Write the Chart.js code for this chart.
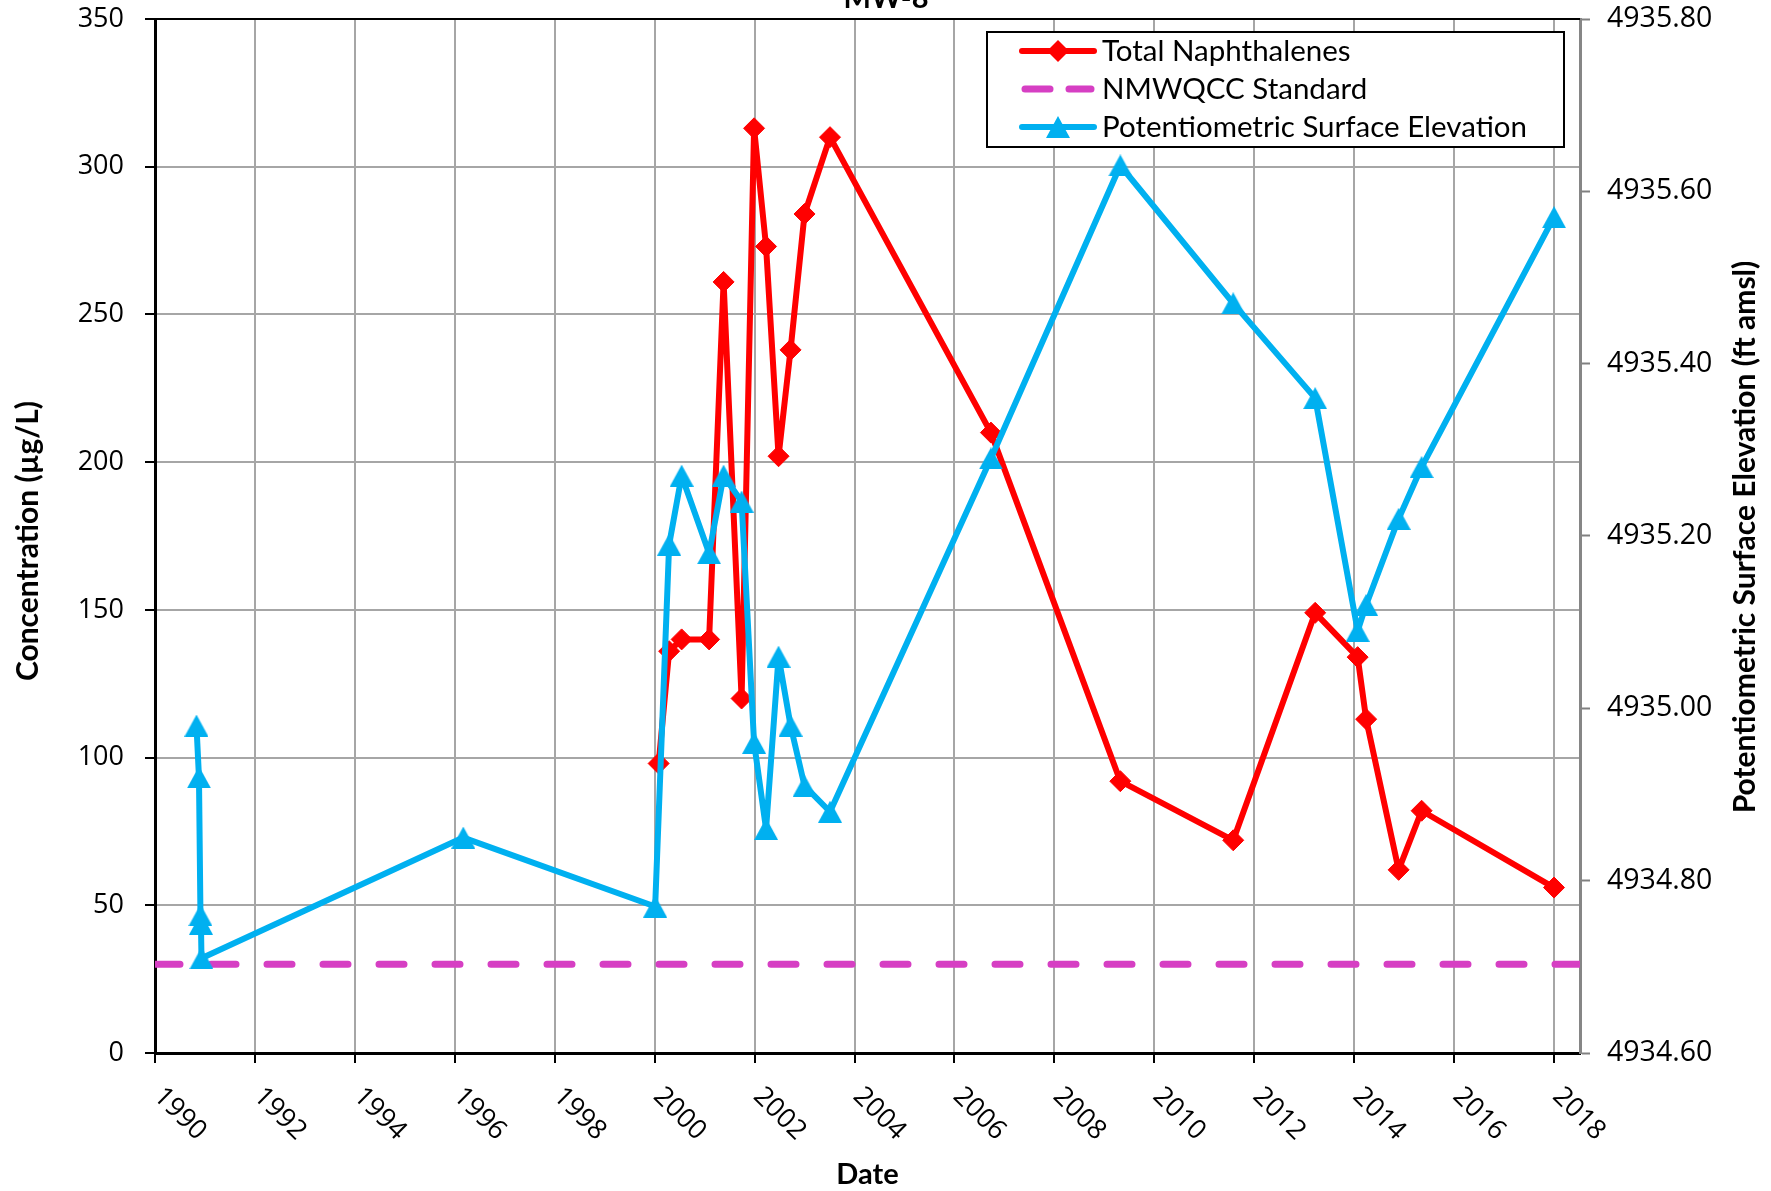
<!DOCTYPE html>
<html>
<head>
<meta charset="utf-8">
<script src="https://cdn.jsdelivr.net/npm/chart.js@4.4.0/dist/chart.umd.min.js"></script>
<style>
  html, body { margin: 0; padding: 0; background: #fff; }
</style>
</head>
<body>
<canvas id="chart" width="1771" height="1191"></canvas>
<script>
// sample dates as decimal years
const naphDates = [2000.08, 2000.29, 2000.54, 2001.09, 2001.38, 2001.74, 2001.99, 2002.23, 2002.48, 2002.72, 2003.0, 2003.51, 2006.73, 2009.32, 2011.58, 2013.22, 2014.07, 2014.24, 2014.89, 2015.35, 2018.0];
const naphValues = [98, 136, 140, 140, 261, 120, 313, 273, 202, 238, 284, 310, 210, 92, 72, 149, 134, 113, 62, 82, 56];

const elevDates = [1990.83, 1990.88, 1990.91, 1990.92, 1990.93, 1996.17, 2000.01, 2000.29, 2000.54, 2001.09, 2001.38, 2001.74, 2001.99, 2002.23, 2002.48, 2002.72, 2003.0, 2003.51, 2006.73, 2009.32, 2011.58, 2013.22, 2014.07, 2014.24, 2014.89, 2015.35, 2018.0];
const elevValues = [4934.98, 4934.92, 4934.76, 4934.75, 4934.71, 4934.85, 4934.77, 4935.19, 4935.27, 4935.18, 4935.27, 4935.24, 4934.96, 4934.86, 4935.06, 4934.98, 4934.91, 4934.88, 4935.29, 4935.63, 4935.47, 4935.36, 4935.09, 4935.12, 4935.22, 4935.28, 4935.57];

const standardValue = 30;
const yearTicks = [1990, 1992, 1994, 1996, 1998, 2000, 2002, 2004, 2006, 2008, 2010, 2012, 2014, 2016, 2018];
const dateRange = [1990, 2018.52];
const concRange = [0, 350, 50];
const elevRange = [4934.6, 4935.8, 0.2];

const RED = '#FF0000';
const BLUE = '#00B0F0';
const PINK = '#D63FC3';
const GRID = '#A6A6A6';

function pts(xs, ys) {
  return xs.map((x, i) => ({ x, y: ys[i] }));
}

function diamond(ctx, x, y, r, color) {
  ctx.beginPath();
  ctx.moveTo(x - r, y);
  ctx.lineTo(x, y - r);
  ctx.lineTo(x + r, y);
  ctx.lineTo(x, y + r);
  ctx.closePath();
  ctx.fillStyle = color;
  ctx.fill();
}

// triangle centred on its box, like the spreadsheet marker
function triangle(ctx, x, y, w, h, color) {
  ctx.beginPath();
  ctx.moveTo(x, y - h / 2);
  ctx.lineTo(x + w / 2, y + h / 2);
  ctx.lineTo(x - w / 2, y + h / 2);
  ctx.closePath();
  ctx.fillStyle = color;
  ctx.fill();
}

const triMarker = document.createElement('canvas');
triMarker.width = 24;
triMarker.height = 22;
triangle(triMarker.getContext('2d'), 12, 11, 24, 22, BLUE);

// keep the plot area where the sheet has it
function noPad(s) {
  s.paddingTop = 0;
  s.paddingBottom = 0;
}

const decor = {
  id: 'decor',
  afterDraw(chart) {
    const ctx = chart.ctx;
    const area = chart.chartArea;
    const xs = chart.scales.x;
    ctx.save();

    // top border of plot area
    ctx.strokeStyle = '#000';
    ctx.lineWidth = 2;
    ctx.beginPath();
    ctx.moveTo(area.left, area.top);
    ctx.lineTo(area.right, area.top);
    ctx.stroke();

    // x tick labels, slanted downwards
    ctx.fillStyle = '#000';
    ctx.font = '27px "Open Sans"';
    ctx.textAlign = 'left';
    ctx.textBaseline = 'middle';
    yearTicks.forEach(v => {
      const px = xs.getPixelForValue(v);
      ctx.save();
      ctx.translate(px + 3, area.bottom + 39);
      ctx.rotate(Math.PI / 4);
      ctx.fillText(String(v), 0, 0);
      ctx.restore();
    });

    // titles
    ctx.textAlign = 'center';
    ctx.textBaseline = 'alphabetic';
    ctx.font = 'bold 29px Lato';
    ctx.fillText('MW-8', 886, 8);

    ctx.textBaseline = 'middle';
    ctx.fillText('Date', (area.left + area.right) / 2, 1175);

    ctx.font = 'bold 30px Lato';
    ctx.save();
    ctx.translate(28, 541);
    ctx.rotate(-Math.PI / 2);
    ctx.fillText('Concentration (\u00b5g/L)', 0, 0);
    ctx.restore();

    ctx.save();
    ctx.translate(1745, 537);
    ctx.rotate(-Math.PI / 2);
    ctx.fillText('Potentiometric Surface Elevation (ft amsl)', 0, 0);
    ctx.restore();

    // legend
    const bx = 987, by = 32, bw = 577, bh = 115;
    ctx.fillStyle = '#fff';
    ctx.fillRect(bx, by, bw, bh);
    ctx.strokeStyle = '#000';
    ctx.lineWidth = 2;
    ctx.strokeRect(bx, by, bw, bh);

    const rows = [51, 89, 127];
    const x0 = 1022, x1 = 1094, xm = 1058;
    ctx.lineCap = 'round';

    ctx.strokeStyle = RED;
    ctx.lineWidth = 6;
    ctx.beginPath(); ctx.moveTo(x0, rows[0]); ctx.lineTo(x1, rows[0]); ctx.stroke();
    diamond(ctx, xm, rows[0], 11, RED);

    ctx.strokeStyle = PINK;
    ctx.lineWidth = 7;
    ctx.beginPath(); ctx.moveTo(x0 + 3, rows[1]); ctx.lineTo(x0 + 28, rows[1]); ctx.stroke();
    ctx.beginPath(); ctx.moveTo(x0 + 47, rows[1]); ctx.lineTo(x1 - 3, rows[1]); ctx.stroke();

    ctx.strokeStyle = BLUE;
    ctx.lineWidth = 6;
    ctx.beginPath(); ctx.moveTo(x0, rows[2]); ctx.lineTo(x1, rows[2]); ctx.stroke();
    triangle(ctx, xm, rows[2], 24, 22, BLUE);

    ctx.fillStyle = '#000';
    ctx.font = '29.5px Lato';
    ctx.textAlign = 'left';
    ctx.textBaseline = 'middle';
    ctx.fillText('Total Naphthalenes', 1102, rows[0]);
    ctx.fillText('NMWQCC Standard', 1102, rows[1]);
    ctx.fillText('Potentiometric Surface Elevation', 1102, rows[2]);

    ctx.restore();
  }
};

new Chart(document.getElementById('chart'), {
  type: 'line',
  data: {
    datasets: [
      {
        label: 'Potentiometric Surface Elevation',
        data: pts(elevDates, elevValues),
        yAxisID: 'y2',
        borderColor: BLUE,
        backgroundColor: BLUE,
        borderWidth: 6,
        borderJoinStyle: 'round',
        pointStyle: triMarker,
        order: 0
      },
      {
        label: 'NMWQCC Standard',
        data: [{ x: dateRange[0], y: standardValue }, { x: dateRange[1], y: standardValue }],
        yAxisID: 'y',
        borderColor: PINK,
        borderWidth: 7,
        borderDash: [25, 31],
        borderCapStyle: 'round',
        pointRadius: 0,
        order: 1
      },
      {
        label: 'Total Naphthalenes',
        data: pts(naphDates, naphValues),
        yAxisID: 'y',
        borderColor: RED,
        backgroundColor: RED,
        borderWidth: 6,
        borderJoinStyle: 'round',
        pointStyle: 'rectRot',
        pointRadius: 10.5,
        pointBorderWidth: 1,
        order: 2
      }
    ]
  },
  options: {
    responsive: false,
    animation: false,
    layout: { padding: { top: 19, left: 0, right: 0, bottom: 0 } },
    plugins: {
      legend: { display: false },
      title: { display: false },
      tooltip: { enabled: false }
    },
    scales: {
      x: {
        type: 'linear',
        min: dateRange[0],
        max: dateRange[1],
        afterBuildTicks: s => { s.ticks = yearTicks.map(v => ({ value: v })); },
        afterFit: s => { s.height = 138; s.paddingLeft = 0; s.paddingRight = 0; },
        ticks: { display: false },
        grid: { color: GRID, lineWidth: 2, tickColor: '#000', tickLength: 10, tickWidth: 2 },
        border: { color: '#000', width: 3 }
      },
      y: {
        position: 'left',
        min: concRange[0],
        max: concRange[1],
        afterFit: s => { s.width = 155; noPad(s); },
        ticks: { stepSize: concRange[2], padding: 21, color: '#000', font: { family: 'Open Sans', size: 27 } },
        grid: { color: GRID, lineWidth: 2, tickColor: '#000', tickLength: 10, tickWidth: 2 },
        border: { color: '#000', width: 3 }
      },
      y2: {
        position: 'right',
        min: elevRange[0],
        max: elevRange[1],
        afterFit: s => { s.width = 191; noPad(s); },
        ticks: {
          stepSize: elevRange[2],
          padding: 17,
          color: '#000',
          font: { family: 'Open Sans', size: 28.5 },
          callback: v => v.toFixed(2)
        },
        grid: { drawOnChartArea: false, tickColor: '#808080', tickLength: 10, tickWidth: 2 },
        border: { color: '#868686', width: 3 }
      }
    }
  },
  plugins: [decor]
});
</script>
</body>
</html>
